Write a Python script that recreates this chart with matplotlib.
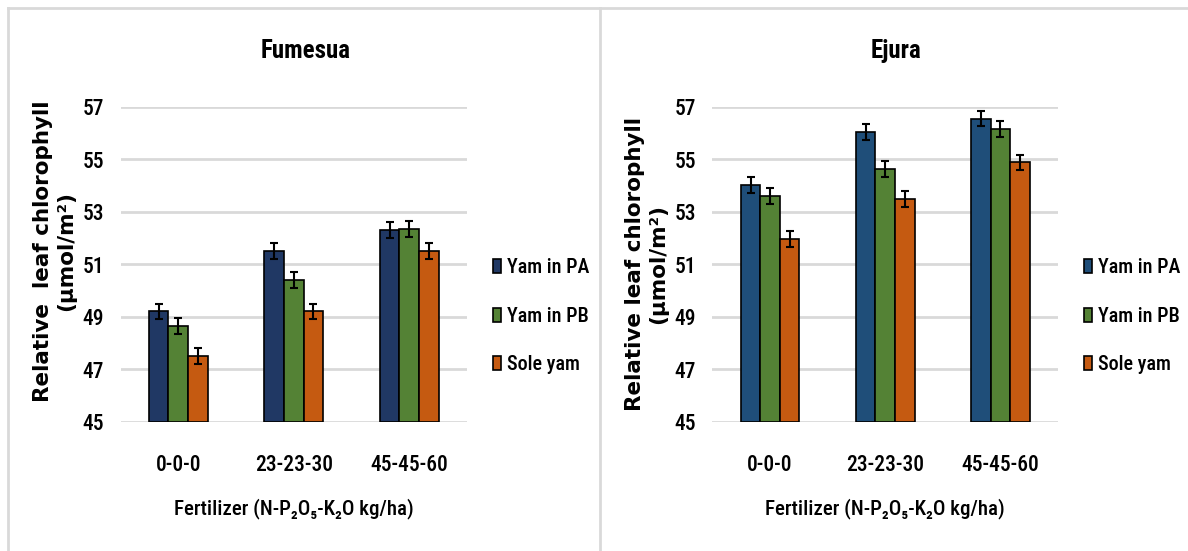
import matplotlib
matplotlib.use("Agg")
import matplotlib.pyplot as plt
import numpy as np
from matplotlib.lines import Line2D

### data
categories = ["0-0-0", "23-23-30", "45-45-60"]
series = ["Yam in PA", "Yam in PB", "Sole yam"]

fumesua_pa = [49.2, 51.5, 52.3]
fumesua_pb = [48.65, 50.4, 52.35]
fumesua_sole = [47.5, 49.2, 51.5]

ejura_pa = [54.0, 56.03, 56.54]
ejura_pb = [53.6, 54.62, 56.15]
ejura_sole = [51.95, 53.47, 54.87]

fumesua_err = [0.3, 0.3, 0.3]
ejura_err = [0.3, 0.3, 0.3]

y_ticks = [45, 47, 49, 51, 53, 55, 57]

### style
narrow = ["Roboto Condensed", "Carlito", "DejaVu Sans"]
plt.rcParams["font.family"] = narrow
plt.rcParams["font.weight"] = 500

grid_col = "#D9D9D9"
green = "#548235"
orange = "#C55A11"

W, H = 1188, 551
fig = plt.figure(figsize=(W / 100, H / 100), dpi=100)


def px_axes(x0, x1, y_top, y_bot):
    return fig.add_axes([x0 / W, 1 - y_bot / H, (x1 - x0) / W, (y_bot - y_top) / H])


def draw_panel(ax, title, title_x, vals, errs, colors, ylabel, ylab_y):
    x = np.arange(len(categories))
    bw = 0.17
    for i, (v, c, name) in enumerate(zip(vals, colors, series)):
        v = np.asarray(v)
        ax.bar(x + (i - 1) * bw, v - 45, bottom=45, width=bw, color=c,
               edgecolor="black", linewidth=1.2, label=name, zorder=3)
        ax.errorbar(x + (i - 1) * bw, v, yerr=errs, fmt="none", ecolor="black",
                    elinewidth=1.5, capsize=3.2, capthick=1.5, zorder=4)

    ax.set_xlim(-0.5, len(categories) - 0.5)
    ax.set_ylim(45, 57)
    ax.set_yticks(y_ticks)
    ax.set_xticks(x)
    ax.set_xticklabels(categories)
    ax.yaxis.grid(True, color=grid_col, linewidth=2)
    ax.set_axisbelow(True)
    for s in ax.spines.values():
        s.set_visible(False)
    ax.tick_params(axis="x", length=0, pad=23, labelsize=15.5)
    ax.tick_params(axis="y", length=0, pad=12, labelsize=15.5)

    ax.set_xlabel("Fertilizer (N-P\u2082O\u2085-K\u2082O kg/ha)", fontsize=15,
                  fontweight=500)
    ax.xaxis.set_label_coords(0.5, -0.274)
    ax.xaxis.label.set_va("center")

    ax.set_ylabel(ylabel, fontsize=15.5, family=["DejaVu Sans"],
                  fontweight="bold", linespacing=1.2)
    ax.yaxis.set_label_coords(-0.19, ylab_y)
    ax.yaxis.label.set_va("center")
    ax.yaxis.label.set_ha("center")

    ax.legend(loc="center left", bbox_to_anchor=(1.075, 0.335), frameon=False,
              fontsize=14.5, borderaxespad=0, borderpad=0, handlelength=0.4,
              handleheight=0.7, handletextpad=0.3, labelspacing=1.45)

    fig.text(title_x / W, 1 - 51 / H, title, ha="center", va="center",
             fontsize=18, fontweight="bold")


ax1 = px_axes(120.5, 467, 106.5, 421.7)
draw_panel(ax1, "Fumesua", 306,
           [fumesua_pa, fumesua_pb, fumesua_sole], fumesua_err,
           ["#203864", green, orange],
           "Relative  leaf chlorophyll\n(μmol/m²)", 0.54)

ax2 = px_axes(712.5, 1058, 106.5, 421.7)
draw_panel(ax2, "Ejura", 896,
           [ejura_pa, ejura_pb, ejura_sole], ejura_err,
           ["#1F4E79", green, orange],
           "Relative leaf chlorophyll\n(μmol/m²)", 0.5)

# panel borders
for xs, ys in [((8, 8), (8, H)), ((8, W), (8, 8)), ((600, 600), (8, H))]:
    fig.add_artist(Line2D([x / W for x in xs], [1 - y / H for y in ys],
                          color=grid_col, linewidth=2))

fig.savefig("out.png", dpi=100, facecolor="white")
